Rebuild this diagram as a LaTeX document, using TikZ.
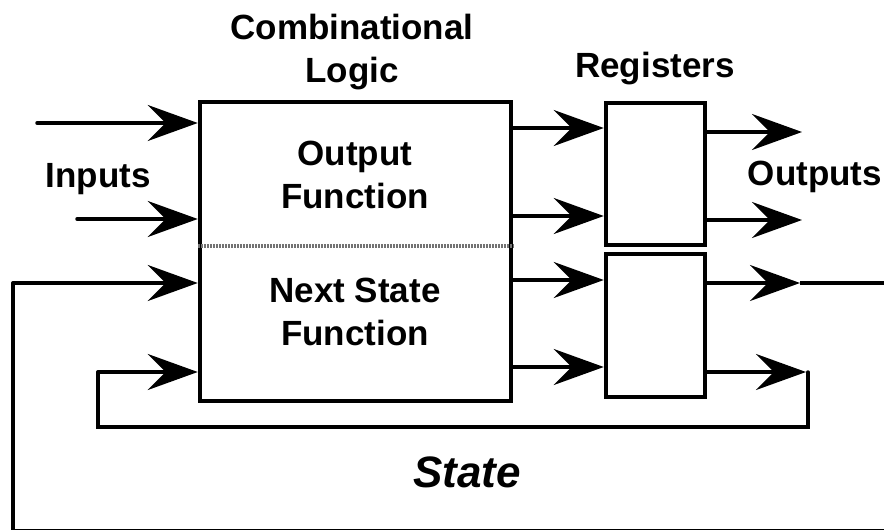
\documentclass[tikz,border=0pt]{standalone}
\usepackage{fontspec}
\setmainfont{Liberation Sans}
\usepackage{tikz}
\usetikzlibrary{positioning,arrows.meta}

\tikzset{
  blk/.style={draw, line width=4.5pt, inner sep=0pt},
  lbl/.style={font=\fontsize{35}{43}\selectfont\bfseries, align=center, inner sep=0pt},
  statelbl/.style={font=\fontsize{44}{52}\selectfont\bfseries\itshape, inner sep=0pt},
  wire/.style={line width=3.5pt, line cap=round},
  arr/.style={wire, -{Stealth[length=50pt, width=36pt, inset=18pt]}},
}

\begin{document}
\begin{tikzpicture}[x=1pt,y=-1pt]
    \useasboundingbox (0,0) rectangle (884,530);
        % blocks
        \node[blk, minimum width=311pt, minimum height=299pt] (cl) at (355.5,251.5) {};
        \node[blk, minimum width=99pt, minimum height=142pt] (regA) at (655.5,174) {};
        \node[blk, minimum width=99pt, minimum height=143pt] (regB) at (655.5,325.5) {};
        \draw[line width=4pt, black!55, dash pattern=on 2pt off 1pt] (cl.west |- 0,246) -- (cl.east |- 0,246);
        % labels
        \node[lbl, anchor=base] (clt) at (352,82) {Combinational\\Logic};
        \node[lbl, anchor=base] (regt) at (655,77) {Registers};
        \node[lbl, anchor=base] (inp) at (98,187) {Inputs};
        \node[lbl, anchor=base] (outp) at (815,185) {Outputs};
        \node[lbl, anchor=base] (of) at (355,208) {Output\\Function};
        \node[lbl, anchor=base] (nsf) at (355,345) {Next State\\Function};
        \node[statelbl, anchor=base] (st) at (467,487) {State};
        % inputs
        \coordinate (in1) at (37,123);
        \coordinate (in2) at (77,219);
        \draw[arr] (in1) -- (in1 -| cl.west);
        \draw[arr] (in2) -- (in2 -| cl.west);
        % combinational logic to registers
        \foreach \y in {128,216}
            \draw[arr] (cl.east |- 0,\y) -- (regA.west |- 0,\y);
        \foreach \y in {280,367}
            \draw[arr] (cl.east |- 0,\y) -- (regB.west |- 0,\y);
        % outputs
        \coordinate (out1) at (802,132);
        \coordinate (out2) at (802,220);
        \coordinate (out3) at (800,283);
        \coordinate (out4) at (806,372);
        \draw[arr] (regA.east |- out1) -- (out1);
        \draw[arr] (regA.east |- out2) -- (out2);
        \draw[arr] (regB.east |- out3) -- (out3);
        \draw[arr] (regB.east |- out4) -- (out4);
        % state feedback
        \coordinate (fbR) at (808,372);
        \coordinate (fbL) at (98,372);
        \draw[wire, line cap=butt] (out3) -- (884,283);
        \draw[wire, line join=miter] (fbR) -- (808,427) -- (98,427) -- (fbL);
        \draw[arr] (fbL) -- (fbL -| cl.west);
        \coordinate (fb2) at (13,283);
        \draw[wire, line join=miter] (884,531) -- (13,531) -- (fb2);
        \draw[arr] (fb2) -- (fb2 -| cl.west);
\end{tikzpicture}
\end{document}
